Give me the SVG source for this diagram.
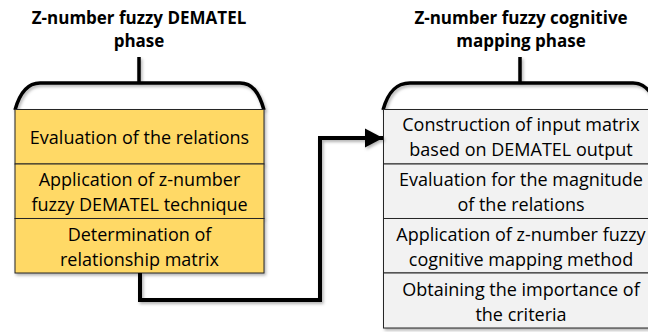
<svg xmlns="http://www.w3.org/2000/svg" width="648" height="332" viewBox="0 0 648 332">
<defs>
<filter id="sh" x="-10%" y="-10%" width="120%" height="130%">
<feDropShadow dx="1.5" dy="2" stdDeviation="1.5" flood-color="#000" flood-opacity="0.3"/>
</filter>
<marker id="arr" markerUnits="userSpaceOnUse" markerWidth="20" markerHeight="20" refX="18" refY="10" orient="auto">
<polygon points="0,0.5 18,10 0,19.5" fill="#000"/>
</marker>
</defs>
<style>
.title{font-family:"Open Sans","Liberation Sans",sans-serif;font-weight:bold;font-size:17px;fill:#000;text-anchor:middle}
.t{font-family:"Open Sans","Liberation Sans",sans-serif;font-size:18px;fill:#000;text-anchor:middle}
.y{fill:#FFD966;stroke:#262626;stroke-width:1}
.g{fill:#F2F2F2;stroke:#262626;stroke-width:1}
.br{fill:none;stroke:#000;stroke-width:3.5}
.con{fill:none;stroke:#000;stroke-width:4}
</style>
<g id="phase1">
<text class="title" x="139" y="24">Z-number fuzzy DEMATEL</text>
<text class="title" x="139" y="47">phase</text>
<g filter="url(#sh)">
<path class="br" d="M139,57 V83 M15,110 C20,92 28,83 40,83 L240,83 C252,83 259,92 264,110"/>
</g>
</g>
<g id="phase2">
<text class="title" x="521" y="24">Z-number fuzzy cognitive</text>
<text class="title" x="521" y="47">mapping phase</text>
<g filter="url(#sh)">
<path class="br" d="M520,57 V83 M383,110 C388,92 396,83 410,83 L633,83 C645,83 653,92 658,110"/>
</g>
</g>
<g id="n1">
<rect class="y" x="15" y="109.5" width="249" height="54.5" filter="url(#sh)"/>
<text class="t" x="139.5" y="143.5">Evaluation of the relations</text>
</g>
<g id="n2">
<rect class="y" x="15" y="164" width="249" height="54.5" filter="url(#sh)"/>
<text class="t" x="139.5" y="186">Application of z-number</text>
<text class="t" x="139.5" y="211">fuzzy DEMATEL technique</text>
</g>
<g id="n3">
<rect class="y" x="15" y="218.5" width="249" height="54.5" filter="url(#sh)"/>
<text class="t" x="139.5" y="240.5">Determination of</text>
<text class="t" x="139.5" y="265.5">relationship matrix</text>
</g>
<g id="n4">
<rect class="g" x="383.5" y="109.5" width="276" height="54.5" filter="url(#sh)"/>
<text class="t" x="521" y="131">Construction of input matrix</text>
<text class="t" x="521" y="156">based on DEMATEL output</text>
</g>
<g id="n5">
<rect class="g" x="383.5" y="164" width="276" height="54.5" filter="url(#sh)"/>
<text class="t" x="521" y="186">Evaluation for the magnitude</text>
<text class="t" x="521" y="211">of the relations</text>
</g>
<g id="n6">
<rect class="g" x="383.5" y="218.5" width="276" height="54.5" filter="url(#sh)"/>
<text class="t" x="521" y="240.5">Application of z-number fuzzy</text>
<text class="t" x="521" y="265.5">cognitive mapping method</text>
</g>
<g id="n7">
<rect class="g" x="383.5" y="273" width="276" height="55" filter="url(#sh)"/>
<text class="t" x="521" y="295.5">Obtaining the importance of</text>
<text class="t" x="521" y="320.5">the criteria</text>
</g>
<g id="connectors">
<path class="con" d="M140,273 V300 H320 V138 H383" marker-end="url(#arr)" filter="url(#sh)"/>
</g>
</svg>
